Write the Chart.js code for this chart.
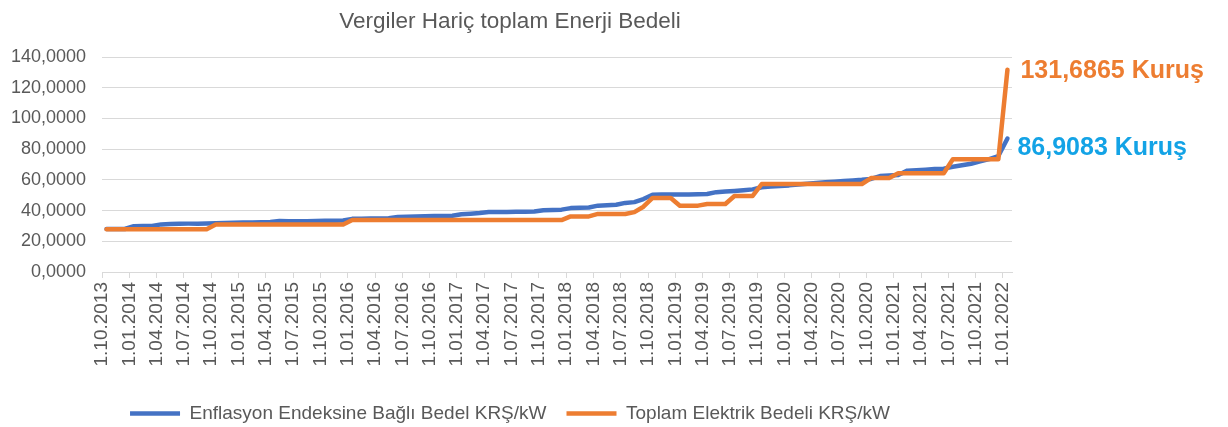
<!DOCTYPE html>
<html>
<head>
<meta charset="utf-8">
<script src="https://cdn.jsdelivr.net/npm/chart.js@4/dist/chart.umd.min.js"></script>
<style>
  html, body { margin: 0; padding: 0; background: #fff; }
  #wrap { width: 1228px; height: 427px; }
</style>
</head>
<body>
<div id="wrap"><canvas id="chart"></canvas></div>
<script>
// quarterly tick labels, one every third month (Oct 2013 .. Jan 2022)
const tickLabels = [
  "1.10.2013",
  "1.01.2014", "1.04.2014", "1.07.2014", "1.10.2014",
  "1.01.2015", "1.04.2015", "1.07.2015", "1.10.2015",
  "1.01.2016", "1.04.2016", "1.07.2016", "1.10.2016",
  "1.01.2017", "1.04.2017", "1.07.2017", "1.10.2017",
  "1.01.2018", "1.04.2018", "1.07.2018", "1.10.2018",
  "1.01.2019", "1.04.2019", "1.07.2019", "1.10.2019",
  "1.01.2020", "1.04.2020", "1.07.2020", "1.10.2020",
  "1.01.2021", "1.04.2021", "1.07.2021", "1.10.2021",
  "1.01.2022"
];

const seriesNames = [
  "Enflasyon Endeksine Bağlı Bedel KRŞ/kW",
  "Toplam Elektrik Bedeli KRŞ/kW"
];

// monthly values, Oct 2013 .. Jan 2022 (100 months)
const enflasyonBedel = [
  28.0, 28.0, 28.0,
  29.8, 29.9, 30.0,
  31.0, 31.3, 31.4, 31.5, 31.5, 31.6,
  31.8, 31.9, 32.0,
  32.2, 32.3, 32.4, 32.5,
  33.2, 33.0,
  33.0, 33.1, 33.2, 33.3, 33.4, 33.5,
  34.6, 34.7, 34.8, 34.9, 35.0,
  35.8, 36.0, 36.2, 36.3, 36.4, 36.5, 36.6,
  37.6, 38.0, 38.4,
  39.0, 39.0, 39.1, 39.2, 39.3, 39.4,
  40.2, 40.4, 40.6,
  41.6, 41.8, 42.0,
  43.2, 43.5, 43.8,
  45.0, 45.5, 47.5,
  50.3, 50.5, 50.5,
  50.4, 50.5, 50.6, 50.8,
  52.0, 52.4, 52.8, 53.3, 53.8,
  55.2, 55.6, 56.0, 56.4,
  57.0, 57.5, 58.0, 58.4,
  58.8, 59.3, 59.6, 60.0, 60.6,
  62.5, 62.9, 63.2,
  66.0, 66.3, 66.6, 67.0, 67.3,
  68.5, 69.5, 70.5, 72.0, 73.5, 75.5,
  86.9083
];

const toplamBedel = [
  27.9, 27.9, 27.9, 27.9, 27.9, 27.9, 27.9, 27.9, 27.9, 27.9, 27.9, 27.9,
  30.9, 30.9, 30.9, 30.9, 30.9, 30.9, 30.9, 30.9, 30.9, 30.9, 30.9, 30.9, 30.9, 30.9, 30.9,
  33.8, 33.8, 33.8, 33.8, 33.8, 33.8, 33.8, 33.8, 33.8, 33.8, 33.8, 33.8,
  33.8, 33.8, 33.8, 33.8, 33.8, 33.8, 33.8, 33.8, 33.8, 33.8, 33.8, 33.8,
  36.2, 36.2, 36.2,
  37.8, 37.8, 37.8, 37.8,
  39.0, 42.5,
  48.2, 48.2, 48.2,
  43.2, 43.2, 43.2,
  44.3, 44.3, 44.3,
  49.5, 49.5, 49.5,
  57.3, 57.3, 57.3, 57.3, 57.3, 57.3, 57.3, 57.3, 57.3, 57.3, 57.3, 57.3,
  61.2, 61.2, 61.2,
  64.3, 64.3, 64.3, 64.3, 64.3, 64.3,
  73.4, 73.4, 73.4, 73.4, 73.4, 73.4,
  131.6865
];

const font = '"Liberation Sans", Arial, sans-serif';
const gray = "#595959";
const gridGray = "#d9d9d9";

function toPoints(values) {
  return values.map((v, i) => ({ x: i + 0.5, y: v }));
}

function trNumber(v) {
  return v.toFixed(4).replace(".", ",");
}

// value labels next to the last point of each line
const endLabels = {
  id: "endLabels",
  afterDatasetsDraw(chart) {
    const ctx = chart.ctx;
    const styles = [
      { color: "#13a3e6", dx: 10, dy: 10 },
      { color: "#ed7d31", dx: 13, dy: 1 }
    ];
    chart.data.datasets.forEach((ds, i) => {
      const meta = chart.getDatasetMeta(i);
      const pt = meta.data[meta.data.length - 1];
      const last = ds.data[ds.data.length - 1].y;
      ctx.save();
      ctx.font = "bold 25px " + font;
      ctx.fillStyle = styles[i].color;
      ctx.textBaseline = "middle";
      ctx.fillText(trNumber(last) + " Kuruş", pt.x + styles[i].dx, pt.y + styles[i].dy);
      ctx.restore();
    });
  }
};

new Chart(document.getElementById("chart"), {
  type: "line",
  data: {
    datasets: [
      {
        label: seriesNames[0],
        data: toPoints(enflasyonBedel),
        borderColor: "#4472c4",
        backgroundColor: "#4472c4",
        borderWidth: 4.5,
        pointRadius: 0,
        borderCapStyle: "round",
        borderJoinStyle: "round",
        order: 2
      },
      {
        label: seriesNames[1],
        data: toPoints(toplamBedel),
        borderColor: "#ed7d31",
        backgroundColor: "#ed7d31",
        borderWidth: 4.5,
        pointRadius: 0,
        borderCapStyle: "round",
        borderJoinStyle: "round",
        order: 1
      }
    ]
  },
  options: {
    responsive: true,
    maintainAspectRatio: false,
    animation: false,
    layout: { padding: { left: 8, right: 216, top: 0, bottom: -6 } },
    plugins: {
      title: {
        display: true,
        text: "Vergiler Hariç toplam Enerji Bedeli",
        color: gray,
        font: { family: font, size: 22.5, weight: "normal" },
        padding: { top: 8, bottom: 22 }
      },
      legend: {
        position: "bottom",
        labels: {
          color: gray,
          font: { family: font, size: 19 },
          usePointStyle: true,
          pointStyle: "line",
          pointStyleWidth: 50,
          padding: 20,
          sort: (a, b) => a.datasetIndex - b.datasetIndex
        }
      },
      tooltip: { enabled: false }
    },
    scales: {
      x: {
        type: "linear",
        min: 0,
        max: 100,
        grid: { drawOnChartArea: false, color: gridGray, tickLength: 6 },
        border: { color: gridGray },
        ticks: {
          stepSize: 3,
          autoSkip: false,
          includeBounds: false,
          minRotation: 90,
          maxRotation: 90,
          padding: 4,
          color: gray,
          font: { family: font, size: 19 },
          callback: (v) => tickLabels[v / 3]
        },
        afterFit: (scale) => { scale.height = 112; }
      },
      y: {
        min: 0,
        max: 140,
        grid: { color: gridGray, drawTicks: false },
        border: { display: false },
        ticks: {
          stepSize: 20,
          padding: 16,
          color: gray,
          font: { family: font, size: 18 },
          callback: (v) => trNumber(v)
        },
        afterFit: (scale) => { scale.width = 94; }
      }
    }
  },
  plugins: [endLabels]
});
</script>
</body>
</html>
